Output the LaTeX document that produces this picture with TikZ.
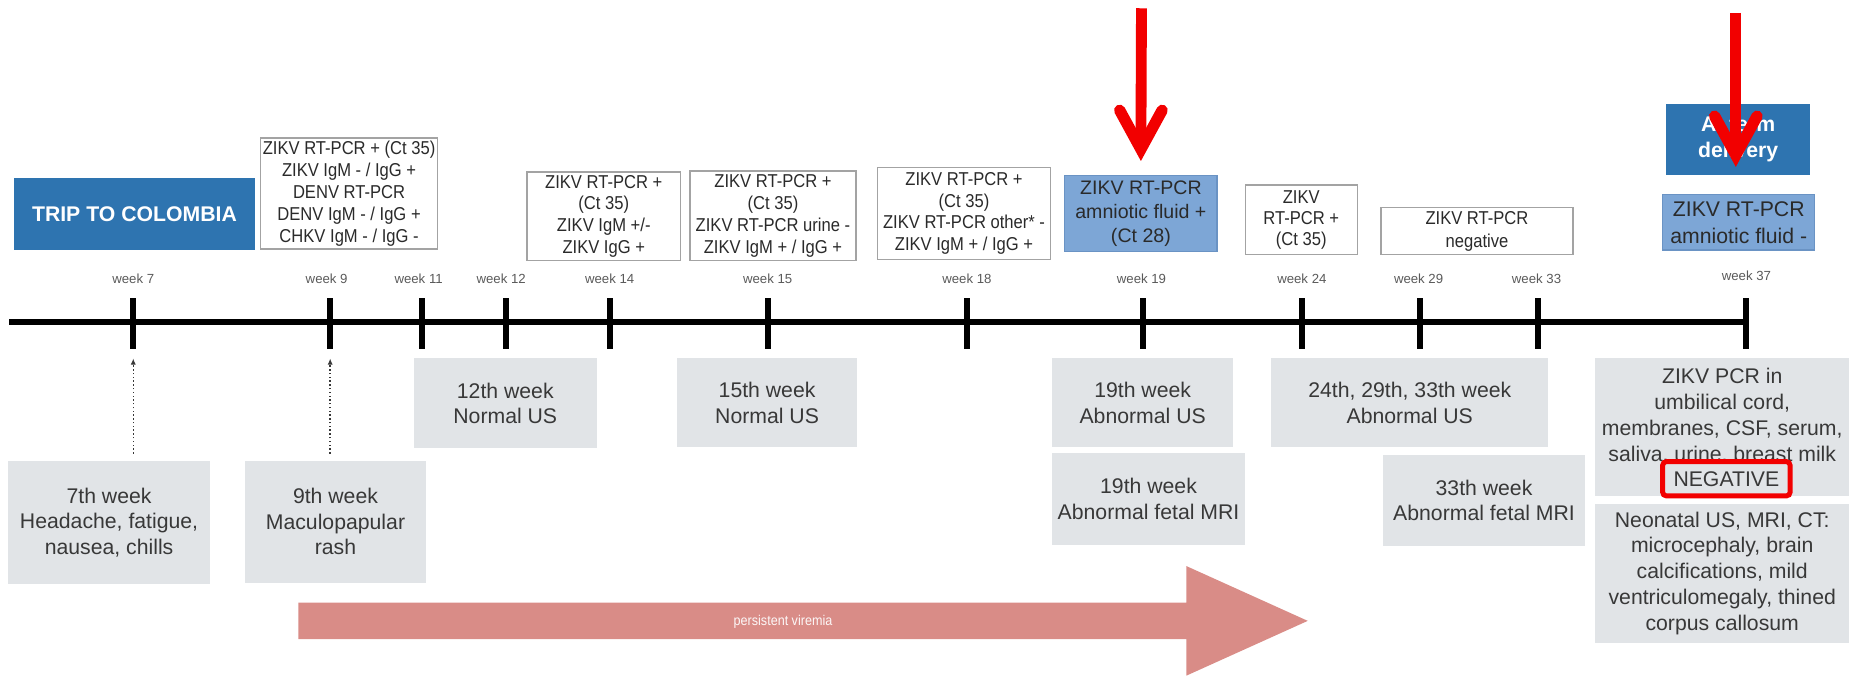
\documentclass[tikz,border=0pt]{standalone}
\usepackage{fontspec}
\setmainfont{Liberation Sans}
\newfontfamily\condf[FakeStretch=0.89]{Liberation Sans}
\usetikzlibrary{calc,arrows.meta}
\definecolor{darkblue}{HTML}{2E74B0}
\definecolor{lightblue}{HTML}{7DA6D6}
\definecolor{lbborder}{HTML}{6A93C4}
\definecolor{greybox}{HTML}{E1E4E7}
\definecolor{wborder}{HTML}{A3A3A3}
\definecolor{pinkarrow}{HTML}{D98C87}
\definecolor{txt}{HTML}{2A2A2A}
\definecolor{gtxt}{HTML}{383838}
\definecolor{weektxt}{HTML}{5A5A5A}
\definecolor{redarrow}{HTML}{F20000}
\begin{document}
\begin{tikzpicture}[x=0.5pt,y=-0.5pt,
  box/.style={rectangle, inner sep=0pt, align=center},
  whitebox/.style={box, draw=wborder, line width=0.6pt, fill=white, text=txt,
    font=\condf\fontsize{7.9}{9.3}\selectfont},
  bluebox/.style={box, draw=lbborder, line width=0.5pt, fill=lightblue, text=txt},
  darkbox/.style={box, fill=darkblue, text=white, font=\bfseries\fontsize{9}{10.9}\selectfont},
  greyb/.style={box, fill=greybox, text=gtxt, font=\fontsize{9}{10.8}\selectfont},
  weeklbl/.style={inner sep=0pt, text=weektxt, font=\fontsize{5.6}{6}\selectfont},
  tickline/.style={line width=2.6pt, black},
  timeline/.style={line width=2.6pt, black},
  dotarrow/.style={densely dotted, line width=0.6pt, gtxt, -{Latex[length=2.6pt,width=2.2pt]},
    shorten <=3pt, shorten >=4pt},
  redshaft/.style={line width=4.6pt, redarrow},
  redhead/.style={line width=4.8pt, redarrow, line cap=round, line join=miter},
  negrect/.style={draw=redarrow, line width=2.1pt, rounded corners=1.5pt, inner sep=0pt,
    minimum width=54pt, minimum height=14.5pt, text=gtxt, font=\fontsize{9}{10}\selectfont},
  viremia/.style={inner sep=0pt, text=white!93!pinkarrow, font=\condf\fontsize{6}{7}\selectfont}
]
\useasboundingbox (0,0) rectangle (1568,574);

% timeline and ticks
\foreach \w/\tx/\lx/\ly in {7/113/113/236, 9/280/277/236, 11/358/355/236, 12/429/425/236,
  14/517/517/236, 15/651/651/236, 18/820/820/236, 19/969/968/236, 24/1104/1104/236,
  29/1204/1203/236, 33/1304/1303/236, 37/1481/1481/234} {
  \coordinate (tt\w) at (\tx,253);
  \coordinate (tb\w) at (\tx,296);
  \node[weeklbl] (wl\w) at (\lx,\ly) {week \w};
}
\coordinate (tlstart) at (8,273);
\draw[timeline] (tlstart) -- (tt37 |- tlstart);
\foreach \w in {7,9,11,12,14,15,18,19,24,29,33,37} {
  \draw[tickline] (tt\w) -- (tb\w);
}

% top boxes
\node[darkbox, minimum width=102pt, minimum height=30.5pt] (trip) at (114,181.5) {TRIP TO COLOMBIA};
\node[whitebox, minimum width=75pt, minimum height=47pt] (w9box) at (296,164)
  {ZIKV RT-PCR + (Ct 35)\\ZIKV IgM - / IgG +\\DENV RT-PCR\\DENV IgM - / IgG +\\CHKV IgM - / IgG -};
\node[whitebox, minimum width=65pt, minimum height=37.5pt] (w14box) at (512,183.5)
  {ZIKV RT-PCR +\\(Ct 35)\\ZIKV IgM +/-\\ZIKV IgG +};
\node[whitebox, minimum width=70.5pt, minimum height=38pt] (w15box) at (655.5,183)
  {ZIKV RT-PCR +\\(Ct 35)\\ZIKV RT-PCR urine -\\ZIKV IgM + / IgG +};
\node[whitebox, minimum width=73.5pt, minimum height=39pt] (w18box) at (817.5,181)
  {ZIKV RT-PCR +\\(Ct 35)\\ZIKV RT-PCR other* -\\ZIKV IgM + / IgG +};
\node[bluebox, minimum width=64.5pt, minimum height=32pt, font=\fontsize{8.3}{10.2}\selectfont] (w19box) at (967.5,181)
  {ZIKV RT-PCR\\amniotic fluid +\\(Ct 28)};
\node[whitebox, minimum width=47.5pt, minimum height=29.5pt, font=\condf\fontsize{7.9}{9}\selectfont] (w24box) at (1103.5,186.5)
  {ZIKV\\RT-PCR +\\(Ct 35)};
\node[whitebox, minimum width=81.5pt, minimum height=20pt, font=\condf\fontsize{7.9}{9.6}\selectfont] (w29box) at (1252.5,196)
  {ZIKV RT-PCR\\negative};
\node[darkbox, minimum width=61pt, minimum height=30pt] (deliv) at (1474,118) {At term\\delivery};
\node[bluebox, minimum width=64.5pt, minimum height=23.5pt, font=\fontsize{9}{11.5}\selectfont] (w37box) at (1474.5,188.5)
  {ZIKV RT-PCR\\amniotic fluid -};

% bottom boxes
\node[greyb, minimum width=85.5pt, minimum height=52pt] (g7) at (92.5,443)
  {7th week\\Headache, fatigue,\\nausea, chills};
\node[greyb, minimum width=76.5pt, minimum height=51.5pt] (g9) at (284.5,442.5)
  {9th week\\Maculopapular\\rash};
\node[greyb, minimum width=77.5pt, minimum height=38pt] (g12) at (428.5,342)
  {12th week\\Normal US};
\node[greyb, minimum width=76.5pt, minimum height=37.5pt] (g15) at (650.5,341.5)
  {15th week\\Normal US};
\node[greyb, minimum width=77pt, minimum height=37.5pt] (g19us) at (969,341.5)
  {19th week\\Abnormal US};
\node[greyb, minimum width=82pt, minimum height=39pt] (g19mri) at (974,423)
  {19th week\\Abnormal fetal MRI};
\node[greyb, minimum width=117.5pt, minimum height=37.5pt] (g2433) at (1195.5,341.5)
  {24th, 29th, 33th week\\Abnormal US};
\node[greyb, minimum width=85.5pt, minimum height=38.5pt] (g33mri) at (1258.5,424.5)
  {33th week\\Abnormal fetal MRI};
\node[greyb, minimum width=107.5pt, minimum height=58.5pt, font=\fontsize{9}{11}\selectfont] (gpcr) at (1460.5,362.5)
  {ZIKV PCR in\\umbilical cord,\\membranes, CSF, serum,\\saliva, urine, breast milk\\\phantom{NEGATIVE}};
\node[negrect] (neg) at (1464,406) {NEGATIVE};
\node[greyb, minimum width=107.5pt, minimum height=59pt, font=\fontsize{9}{10.9}\selectfont] (gneo) at (1460.5,486)
  {Neonatal US, MRI, CT:\\microcephaly, brain\\calcifications, mild\\ventriculomegaly, thined\\corpus callosum};

% dotted connectors
\draw[dotarrow] (g7.north -| tb7) -- (tb7);
\draw[dotarrow] (g9.north -| tb9) -- (tb9);

% persistent viremia arrow
\fill[pinkarrow] (253,511) -- (1006,511) -- (1006,480) -- (1109,526.5) -- (1006,573)
  -- (1006,542) -- (253,542) -- cycle;
\node[viremia] (vir) at (664,527) {persistent viremia};

% red arrows
\coordinate (r1top) at (968,7);
\coordinate (r1tip) at ($(w19box.north)+(0,-22)$);
\draw[redshaft] (r1top) -- (r1tip);
\draw[redhead] ($(r1tip)+(-18,-33)$) -- (r1tip) -- ($(r1tip)+(18,-33)$);
\coordinate (r2top) at (1472,11);
\coordinate (r2tip) at ($(w37box.north)+(-2.5,-33)$);
\draw[redshaft] (r2top) -- (r2tip);
\draw[redhead] ($(r2tip)+(-18,-33)$) -- (r2tip) -- ($(r2tip)+(18,-33)$);
\end{tikzpicture}
\end{document}
